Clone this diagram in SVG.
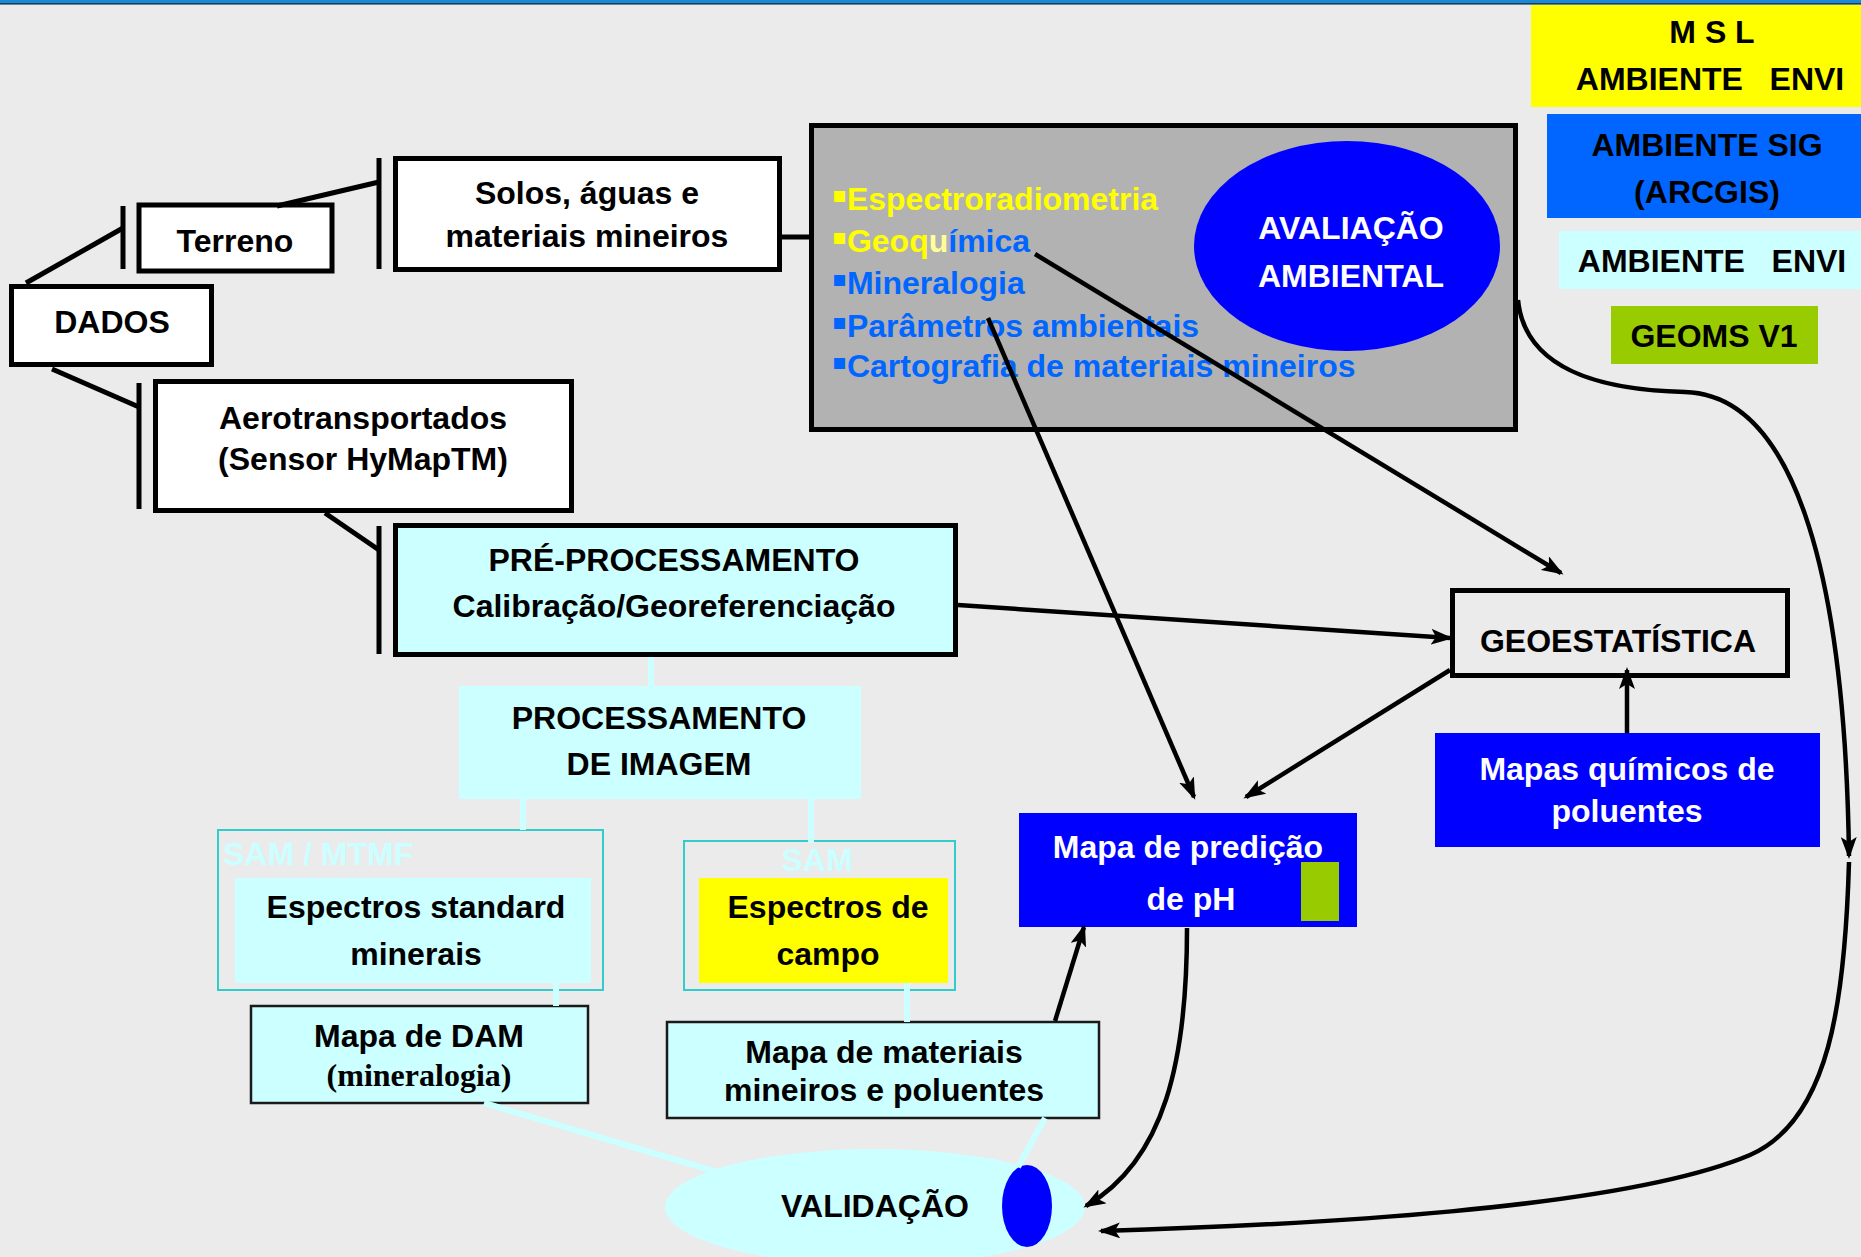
<svg xmlns="http://www.w3.org/2000/svg" width="1861" height="1257" viewBox="0 0 1861 1257">
<defs>
<style>
text{font-family:"Liberation Sans",Arial,sans-serif;font-weight:bold;font-size:32px;fill:#000;text-anchor:middle}
.w{fill:#fff}
.cy{fill:#ccffff}
.yl{fill:#ffff00}
.pyl{fill:#ffff99}
.bl{fill:#0066ff}
.lt{text-anchor:start}
.bu{font-family:"DejaVu Sans",sans-serif;font-size:22px}
.box{stroke:#000;stroke-width:5;fill:#fff}
.thin{stroke:#1a1a1a;stroke-width:2.5;fill:#ccffff}
.frame{stroke:#33cccc;stroke-width:2;fill:none}
.ln{stroke:#000;stroke-width:5;fill:none}
.ar{stroke:#000;stroke-width:4.5;fill:none;marker-end:url(#ah)}
.cl{stroke:#ccffff;stroke-width:6;fill:none}
.serif{font-family:"Liberation Serif","Times New Roman",serif}
</style>
<marker id="ah" viewBox="0 0 22 16" refX="19" refY="8" markerWidth="22" markerHeight="16" markerUnits="userSpaceOnUse" orient="auto">
<path d="M0,0 L22,8 L0,16 L5,8 z" fill="#000"/>
</marker>
</defs>
<rect x="0" y="0" width="1861" height="1257" fill="#ebebeb"/>
<rect x="0" y="0" width="1861" height="3" fill="#1a8ad4"/>
<rect x="0" y="3" width="1861" height="1.6" fill="#1b3a5c"/>

<g id="dados">
<rect class="box" x="11.5" y="286.5" width="200" height="78"/>
<text x="112" y="333">DADOS</text>
</g>
<g id="terreno">
<rect class="box" stroke-width="4" x="139" y="205" width="193" height="66"/>
<text x="235" y="252">Terreno</text>
</g>
<g id="solos">
<rect class="box" x="395.5" y="158.5" width="384" height="111"/>
<text x="587" y="204">Solos, águas e</text>
<text x="587" y="247">materiais mineiros</text>
</g>
<g id="aerotransportados">
<rect class="box" x="155.5" y="381.5" width="416" height="129"/>
<text x="363" y="429">Aerotransportados</text>
<text x="363" y="470">(Sensor HyMapTM)</text>
</g>
<g id="pre-processamento">
<rect class="box" style="fill:#ccffff" x="395.5" y="525.5" width="560" height="129"/>
<text x="674" y="571">PRÉ-PROCESSAMENTO</text>
<text x="674" y="617">Calibração/Georeferenciação</text>
</g>
<g id="processamento">
<rect x="459" y="686" width="402" height="113" fill="#ccffff"/>
<text x="659" y="729">PROCESSAMENTO</text>
<text x="659" y="775">DE IMAGEM</text>
</g>
<g id="sam-mtmf">
<rect class="frame" x="218" y="830" width="385" height="160"/>
<text class="cy lt" x="223" y="865">SAM / MTMF</text>
<rect x="235" y="878" width="356" height="105" fill="#ccffff"/>
<text x="416" y="918">Espectros standard</text>
<text x="416" y="965">minerais</text>
</g>
<g id="sam">
<rect class="frame" x="684" y="841" width="271" height="149"/>
<text class="cy" x="817" y="871">SAM</text>
<rect x="699" y="878" width="249" height="105" fill="#ffff00"/>
<text x="828" y="918">Espectros de</text>
<text x="828" y="965">campo</text>
</g>
<g id="mapa-dam">
<rect class="thin" x="251" y="1006" width="337" height="97"/>
<text x="419" y="1047">Mapa de DAM</text>
<text class="serif" x="419" y="1086">(mineralogia)</text>
</g>
<g id="mapa-materiais">
<rect class="thin" x="667" y="1022" width="432" height="96"/>
<text x="884" y="1063">Mapa de materiais</text>
<text x="884" y="1101">mineiros e poluentes</text>
</g>
<g id="validacao">
<ellipse cx="875" cy="1207" rx="210" ry="58" fill="#ccffff"/>
<ellipse cx="1027" cy="1206" rx="25" ry="41" fill="#0000ff"/>
<text x="875" y="1217">VALIDAÇÃO</text>
</g>
<g id="mapa-ph">
<rect x="1019" y="813" width="338" height="114" fill="#0000ff"/>
<rect x="1301" y="862" width="38" height="59" fill="#99cc00"/>
<text class="w" x="1188" y="858">Mapa de predição</text>
<text class="w" x="1191" y="910">de pH</text>
</g>
<g id="geoestatistica">
<rect class="box" style="fill:none" x="1452.5" y="590.5" width="335" height="85"/>
<text x="1618" y="652">GEOESTATÍSTICA</text>
</g>
<g id="mapas-quimicos">
<rect x="1435" y="733" width="385" height="114" fill="#0000ff"/>
<text class="w" x="1627" y="780">Mapas químicos de</text>
<text class="w" x="1627" y="822">poluentes</text>
</g>
<g id="avaliacao">
<rect class="box" style="fill:#b2b2b2" x="811.5" y="125.5" width="704" height="304"/>
<text class="yl lt" x="832" y="210"><tspan class="bu" baseline-shift="8">▪</tspan>Espectroradiometria</text>
<text class="yl lt" x="832" y="252"><tspan class="bu" baseline-shift="8">▪</tspan>Geoq<tspan class="pyl">u</tspan><tspan class="bl">ímica</tspan></text>
<text class="bl lt" x="832" y="294"><tspan class="bu" baseline-shift="8">▪</tspan>Mineralogia</text>
<text class="bl lt" x="832" y="337"><tspan class="bu" baseline-shift="8">▪</tspan>Parâmetros ambientais</text>
<text class="bl lt" x="832" y="377"><tspan class="bu" baseline-shift="8">▪</tspan>Cartografia de materiais mineiros</text>
<ellipse cx="1347" cy="246" rx="153" ry="105" fill="#0000ff"/>
<text class="w" x="1351" y="239">AVALIAÇÃO</text>
<text class="w" x="1351" y="287">AMBIENTAL</text>
</g>
<g id="legend-msl">
<rect x="1531" y="5" width="330" height="102" fill="#ffff00"/>
<text x="1712" y="43" xml:space="preserve">M S L</text>
<text x="1710" y="90" xml:space="preserve">AMBIENTE   ENVI</text>
</g>
<g id="legend-sig">
<rect x="1547" y="114" width="314" height="104" fill="#0066ff"/>
<text x="1707" y="156">AMBIENTE SIG</text>
<text x="1707" y="203">(ARCGIS)</text>
</g>
<g id="legend-envi">
<rect x="1559" y="231" width="302" height="58" fill="#ccffff"/>
<text x="1712" y="272" xml:space="preserve">AMBIENTE   ENVI</text>
</g>
<g id="legend-geoms">
<rect x="1611" y="306" width="207" height="58" fill="#99cc00"/>
<text x="1714" y="347">GEOMS V1</text>
</g>

<g id="connectors">
<line class="ln" x1="26" y1="283" x2="123" y2="228"/>
<line class="ln" x1="123" y1="206" x2="123" y2="269"/>
<line class="ln" x1="277" y1="206" x2="379" y2="182"/>
<line class="ln" x1="379" y1="158" x2="379" y2="269"/>
<line class="ln" x1="52" y1="369" x2="139" y2="407"/>
<line class="ln" x1="139" y1="383" x2="139" y2="509"/>
<line class="ln" x1="325" y1="513" x2="379" y2="550"/>
<line class="ln" x1="379" y1="526" x2="379" y2="654"/>
<line class="ln" x1="782" y1="237" x2="811" y2="237"/>
<line class="cl" x1="651" y1="657" x2="651" y2="686"/>
<line class="cl" x1="523" y1="799" x2="523" y2="830"/>
<line class="cl" x1="811" y1="799" x2="811" y2="843"/>
<line class="cl" x1="556" y1="983" x2="556" y2="1006"/>
<line class="cl" x1="907" y1="983" x2="907" y2="1022"/>
<line class="cl" x1="484" y1="1103" x2="717" y2="1172"/>
<line class="cl" stroke-width="4" x1="1045" y1="1118" x2="1018" y2="1167"/>
<line class="ar" stroke-width="5" x1="958" y1="605" x2="1450" y2="638"/>
<line class="ar" x1="1035" y1="254" x2="1561" y2="573"/>
<line class="ar" x1="988" y1="318" x2="1194" y2="797"/>
<line class="ar" x1="1450" y1="670" x2="1246" y2="797"/>
<line class="ar" x1="1627" y1="733" x2="1627" y2="670"/>
<line class="ar" x1="1055" y1="1021" x2="1084" y2="927"/>
<path class="ar" d="M1187,928 C1187,1060 1165,1160 1086,1206"/>
<path class="ar" d="M1518,300 C1525,370 1600,390 1685,392 C1790,395 1845,560 1849,856"/>
<path class="ar" d="M1849,862 C1845,1000 1830,1120 1750,1155 C1620,1210 1300,1225 1101,1231"/>
</g>
</svg>
